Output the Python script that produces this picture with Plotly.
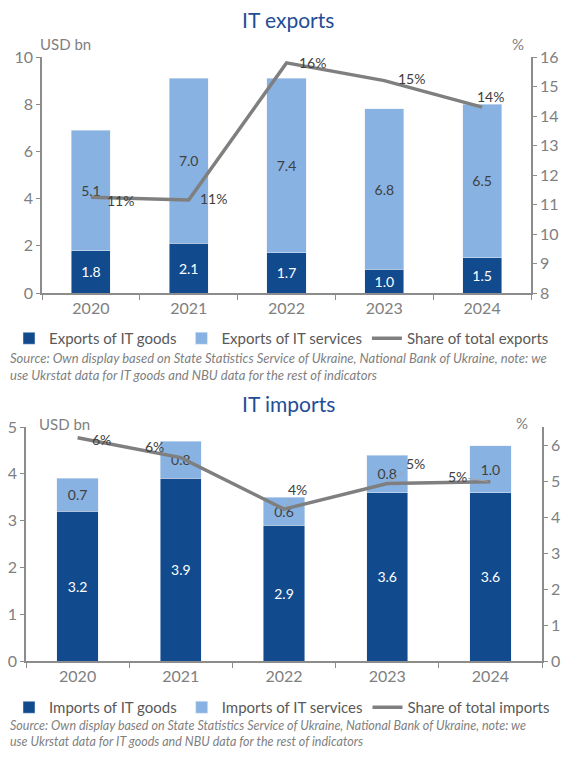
import plotly.graph_objects as go

years = ["2020", "2021", "2022", "2023", "2024"]

# IT exports, USD bn
exp_goods = [1.8, 2.1, 1.7, 1.0, 1.5]
exp_services = [5.1, 7.0, 7.4, 6.8, 6.5]
exp_share = [11.25, 11.15, 15.8, 15.2, 14.3]
exp_share_labels = ["11%", "11%", "16%", "15%", "14%"]

# IT imports, USD bn
imp_goods = [3.2, 3.9, 2.9, 3.6, 3.6]
imp_services = [0.7, 0.8, 0.6, 0.8, 1.0]
imp_share = [6.2, 5.65, 4.22, 4.93, 4.98]
imp_share_labels = ["6%", "6%", "4%", "5%", "5%"]

# label offsets (px) for the share labels
exp_lab_dx = [30, 25, 26, 27, 8]
exp_lab_dy = [3, -2, 0, -2, -11]
imp_lab_dx = [24, -26, 13, 28, -33]
imp_lab_dy = [2, -11, -20, -20, -5]
imp_leader = [False, False, True, True, True]

# the page body has an 8px margin, so the figure is a bit smaller than the window
W, H = 576, 758
PAD = 8
FW, FH = W - 2 * PAD, H - 2 * PAD

DARK = "#124A8E"
LIGHT = "#88B2E1"
GREY_LINE = "#7F7F7F"
AXIS = "#8C8C8C"
TICK = "#808080"
TXT = "#404040"
FONT = "Lato"

source = ("Source: Own display based on State Statistics Service of Ukraine, National Bank of Ukraine, note: we<br>"
          "use Ukrstat data for IT goods and NBU data for the rest of indicators")


def px_x(v):
    # window pixel -> paper fraction
    return (v - PAD) / FW


def px_y(v):
    return 1 - (v - PAD) / FH


fig = go.Figure()

# --- top chart: exports
fig.add_trace(go.Bar(x=years, y=exp_goods, name="Exports of IT goods", marker_color=DARK,
                     text=[f"{v:.1f}" for v in exp_goods], textposition="inside",
                     insidetextanchor="middle", textfont=dict(color="white", size=14),
                     xaxis="x", yaxis="y", legend="legend"))
fig.add_trace(go.Bar(x=years, y=exp_services, name="Exports of IT services", marker_color=LIGHT,
                     text=[f"{v:.1f}" for v in exp_services], textposition="inside",
                     insidetextanchor="middle", textfont=dict(color=TXT, size=14),
                     xaxis="x", yaxis="y", legend="legend"))
fig.add_trace(go.Scatter(x=years, y=exp_share, name="Share of total exports", mode="lines",
                         line=dict(color=GREY_LINE, width=3.5),
                         xaxis="x", yaxis="y2", legend="legend"))

# --- bottom chart: imports
fig.add_trace(go.Bar(x=years, y=imp_goods, name="Imports of IT goods", marker_color=DARK,
                     text=[f"{v:.1f}" for v in imp_goods], textposition="inside",
                     insidetextanchor="middle", textfont=dict(color="white", size=14),
                     xaxis="x2", yaxis="y3", legend="legend2"))
fig.add_trace(go.Bar(x=years, y=imp_services, name="Imports of IT services", marker_color=LIGHT,
                     text=[f"{v:.1f}" for v in imp_services], textposition="inside",
                     insidetextanchor="middle", textfont=dict(color=TXT, size=14),
                     xaxis="x2", yaxis="y3", legend="legend2"))
fig.add_trace(go.Scatter(x=years, y=imp_share, name="Share of total imports", mode="lines",
                         line=dict(color=GREY_LINE, width=3.5),
                         xaxis="x2", yaxis="y4", legend="legend2"))

# share labels next to the line points (x given as category index)
for i, (v, lab, dx, dy) in enumerate(zip(exp_share, exp_share_labels, exp_lab_dx, exp_lab_dy)):
    fig.add_annotation(x=i, y=v, xref="x", yref="y2", text=lab, showarrow=False,
                       xshift=dx, yshift=-dy, font=dict(size=14, color=TXT))
for i, (v, lab, dx, dy, lead) in enumerate(zip(imp_share, imp_share_labels, imp_lab_dx, imp_lab_dy, imp_leader)):
    if lead:
        fig.add_annotation(x=i, y=v, xref="x2", yref="y4", text=lab, showarrow=True,
                           arrowhead=0, arrowwidth=1, arrowcolor="#A6A6A6", ax=dx, ay=dy,
                           standoff=3, font=dict(size=14, color=TXT))
    else:
        fig.add_annotation(x=i, y=v, xref="x2", yref="y4", text=lab, showarrow=False,
                           xshift=dx, yshift=-dy, font=dict(size=14, color=TXT))

xcommon = dict(type="category", range=[-0.5, 4.5], showline=True, linecolor=AXIS, linewidth=1.5,
               ticks="outside", tickson="boundaries", ticklen=5, tickcolor=AXIS, showgrid=False,
               tickfont=dict(size=16, color=TICK), automargin=False)
ycommon = dict(showline=True, linecolor=AXIS, linewidth=1.5, ticks="outside", ticklen=4,
               tickcolor=AXIS, showgrid=False, zeroline=False, tickfont=dict(size=16, color=TICK),
               automargin=False)

fig.update_layout(
    width=FW, height=FH,
    margin=dict(l=0, r=0, t=0, b=0, autoexpand=False),
    paper_bgcolor="white", plot_bgcolor="white",
    font=dict(family=FONT, color=TXT),
    barmode="stack", bargap=0.6,
    showlegend=True,
    xaxis=dict(domain=[px_x(42), px_x(531)], anchor="y", **xcommon),
    yaxis=dict(domain=[px_y(293), px_y(57)], range=[0, 10], dtick=2, **ycommon),
    yaxis2=dict(overlaying="y", side="right", anchor="x", range=[8, 16], dtick=1, **ycommon),
    xaxis2=dict(domain=[px_x(26), px_x(542)], anchor="y3", **xcommon),
    yaxis3=dict(domain=[px_y(661), px_y(427)], range=[0, 5], dtick=1, anchor="x2", **ycommon),
    yaxis4=dict(overlaying="y3", side="right", anchor="x2", range=[0, 6.5],
                tickvals=[0, 1, 2, 3, 4, 5, 6], **ycommon),
    legend=dict(orientation="h", x=px_x(9), xanchor="left", y=px_y(322), yanchor="top",
                font=dict(size=15, color="#595959"), itemwidth=30, traceorder="normal"),
    legend2=dict(orientation="h", x=px_x(9), xanchor="left", y=px_y(691), yanchor="top",
                 font=dict(size=15, color="#595959"), itemwidth=30, traceorder="normal"),
)

annots = [
    dict(text="IT exports", x=px_x(288), y=px_y(20), font=dict(size=21, color="#1F4E96")),
    dict(text="IT imports", x=px_x(288), y=px_y(403), font=dict(size=21, color="#1F4E96")),
    dict(text="USD bn", x=px_x(38), y=px_y(44), xanchor="left", font=dict(size=15, color=TICK)),
    dict(text="%", x=px_x(518), y=px_y(44), font=dict(size=15, color=TICK)),
    dict(text="USD bn", x=px_x(37), y=px_y(424), xanchor="left", font=dict(size=15, color=TICK)),
    dict(text="%", x=px_x(522), y=px_y(423), font=dict(size=15, color=TICK)),
    dict(text=source, x=px_x(8), y=px_y(367), xanchor="left", align="left",
         font=dict(size=13, color="#7F7F7F", style="italic")),
    dict(text=source, x=px_x(8), y=px_y(733), xanchor="left", align="left",
         font=dict(size=12.5, color="#7F7F7F", style="italic")),
]
for a in annots:
    a.setdefault("xanchor", "center")
    fig.add_annotation(xref="paper", yref="paper", yanchor="middle", showarrow=False, **a)

fig.write_html("out.html")
